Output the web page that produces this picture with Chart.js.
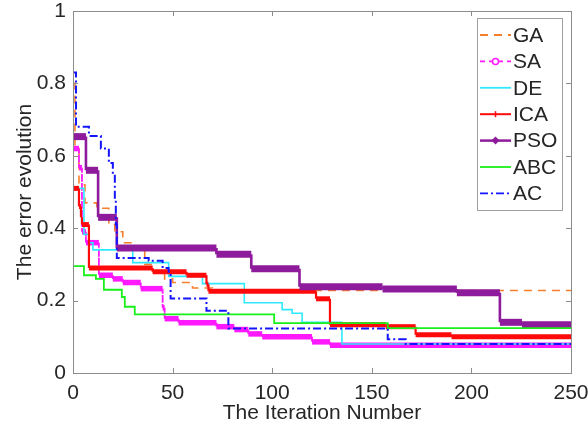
<!DOCTYPE html>
<html lang="en">
<head>
  <meta charset="UTF-8">
  <title>The error evolution</title>
  <script src="https://cdn.jsdelivr.net/npm/chart.js"></script>
  <style>
    body { margin: 0; background: #fff; }
    .chart-container { width: 588px; height: 440px; }
  </style>
</head>
<body>
  <div class="chart-container"><canvas id="errChart"></canvas></div>

  <script>
    // step points: iteration where a new best error starts, and that error
    const iterGA  = [0, 1, 3, 6, 12, 18, 21, 25, 30, 36, 40, 46, 50, 60, 70, 250];
    const errGA   = [0.80, 0.62, 0.52, 0.47, 0.455, 0.41, 0.39, 0.36, 0.34, 0.30, 0.28, 0.26, 0.25, 0.235, 0.228, 0.228];

    const iterSA  = [0, 3, 4.5, 6.5, 13, 20, 25, 34, 45, 46, 53, 72, 81, 88, 95, 120, 129, 250];
    const errSA   = [0.62, 0.567, 0.39, 0.36, 0.27, 0.26, 0.25, 0.233, 0.18, 0.15, 0.139, 0.128, 0.12, 0.108, 0.10, 0.086, 0.077, 0.077];

    const iterDE  = [0.5, 5.5, 8, 10, 30, 48, 65, 86, 105, 110, 115, 135, 250];
    const errDE   = [0.51, 0.383, 0.36, 0.34, 0.305, 0.267, 0.247, 0.194, 0.175, 0.165, 0.14, 0.08, 0.08];

    const iterICA = [0, 3, 4, 4.5, 8, 40, 57, 67, 68, 122, 129, 157, 172, 190, 250];
    const errICA  = [0.51, 0.46, 0.43, 0.41, 0.29, 0.28, 0.27, 0.245, 0.226, 0.205, 0.133, 0.128, 0.106, 0.10, 0.10];

    const iterPSO = [0, 6.5, 12.6, 22, 72, 89.5, 113.7, 155.4, 192.7, 214.3, 225.4, 250];
    const errPSO  = [0.653, 0.56, 0.43, 0.345, 0.328, 0.288, 0.238, 0.232, 0.222, 0.14, 0.133, 0.133];

    const iterABC = [0, 5.5, 11.5, 15.5, 24.5, 26, 31, 101, 158, 250];
    const errABC  = [0.295, 0.27, 0.26, 0.23, 0.21, 0.183, 0.162, 0.138, 0.124, 0.124];

    const iterAC  = [0, 1.5, 8, 14, 18, 20, 21, 21.5, 22, 38, 45, 48, 49, 67, 78, 158, 167, 250];
    const errAC   = [0.83, 0.68, 0.655, 0.62, 0.58, 0.55, 0.48, 0.41, 0.318, 0.31, 0.29, 0.28, 0.206, 0.172, 0.123, 0.093, 0.08, 0.08];

    const xTicks = [0, 50, 100, 150, 200, 250];
    const yTicks = [0, 0.2, 0.4, 0.6, 0.8, 1];

    const FONT = "'Liberation Sans', Arial, Helvetica, sans-serif";
    const TXT = '#262626';
    const AXIS = '#8c8c8c';

    // staircase points: corner (next x, old y) then (next x, new y)
    function stairs(xs, ys) {
      const out = [{ x: xs[0], y: ys[0] }];
      for (let i = 1; i < xs.length; i++) {
        out.push({ x: xs[i], y: ys[i - 1] });
        out.push({ x: xs[i], y: ys[i] });
      }
      return out;
    }

    // width = flat runs (marker band), thin = the drops
    const series = [
      { label: 'GA',  x: iterGA,  y: errGA,  color: '#f77f2b', width: 1.6, thin: 1.6, dash: [8, 6],       vdash: [8, 6],       marker: null,      order: 7 },
      { label: 'SA',  x: iterSA,  y: errSA,  color: '#ff19ff', width: 5.5, thin: 1.8, dash: [],           vdash: [5, 4],       marker: 'circle',  order: 6 },
      { label: 'DE',  x: iterDE,  y: errDE,  color: '#2ee9ff', width: 1.6, thin: 1.6, dash: [],           vdash: [],           marker: null,      order: 5 },
      { label: 'ICA', x: iterICA, y: errICA, color: '#ff0a0a', width: 5,   thin: 2.2, dash: [],           vdash: [],           marker: 'plus',    order: 4 },
      { label: 'PSO', x: iterPSO, y: errPSO, color: '#8e1a9c', width: 7,   thin: 2.6, dash: [],           vdash: [],           marker: 'diamond', order: 3 },
      { label: 'ABC', x: iterABC, y: errABC, color: '#19f019', width: 1.8, thin: 1.8, dash: [],           vdash: [],           marker: null,      order: 2 },
      { label: 'AC',  x: iterAC,  y: errAC,  color: '#1414ff', width: 2,   thin: 2,   dash: [8, 3, 2, 3], vdash: [8, 3, 2, 3], marker: null,      order: 1 }
    ];

    // box, inward ticks and legend, MATLAB style
    const framePlugin = {
      id: 'frame',
      afterDraw(chart) {
        const { ctx, chartArea: a, scales } = chart;
        ctx.save();
        ctx.strokeStyle = AXIS;
        ctx.lineWidth = 1;
        ctx.setLineDash([]);
        ctx.strokeRect(a.left + 0.5, a.top + 0.5, a.right - a.left, a.bottom - a.top);
        xTicks.forEach(v => {
          const px = Math.round(scales.x.getPixelForValue(v)) + 0.5;
          ctx.beginPath();
          ctx.moveTo(px, a.bottom); ctx.lineTo(px, a.bottom - 5);
          ctx.moveTo(px, a.top); ctx.lineTo(px, a.top + 5);
          ctx.stroke();
        });
        yTicks.forEach(v => {
          const py = Math.round(scales.y.getPixelForValue(v)) + 0.5;
          ctx.beginPath();
          ctx.moveTo(a.left, py); ctx.lineTo(a.left + 5, py);
          ctx.moveTo(a.right, py); ctx.lineTo(a.right - 5, py);
          ctx.stroke();
        });

        // legend
        const bx = 477, by = 18, bw = 85, bh = 192;
        ctx.fillStyle = '#fff';
        ctx.fillRect(bx, by, bw, bh);
        ctx.strokeStyle = '#a0a0a0';
        ctx.strokeRect(bx + 0.5, by + 0.5, bw, bh);
        ctx.font = '21px ' + FONT;
        ctx.textBaseline = 'middle';
        series.forEach((s, i) => {
          const ly = 35 + i * 26.4;
          ctx.strokeStyle = s.color;
          ctx.lineWidth = s.label === 'PSO' ? 2.5 : (s.label === 'ICA' ? 2 : 1.8);
          ctx.setLineDash(s.label === 'SA' ? [5, 4] : s.dash);
          ctx.beginPath();
          ctx.moveTo(480, ly); ctx.lineTo(511, ly);
          ctx.stroke();
          ctx.setLineDash([]);
          const mx = 495.5;
          if (s.marker === 'circle') {
            ctx.fillStyle = '#fff';
            ctx.lineWidth = 1.5;
            ctx.beginPath(); ctx.arc(mx, ly, 3, 0, Math.PI * 2); ctx.fill(); ctx.stroke();
          } else if (s.marker === 'plus') {
            ctx.lineWidth = 1.5;
            ctx.beginPath();
            ctx.moveTo(mx, ly - 3); ctx.lineTo(mx, ly + 3);
            ctx.stroke();
          } else if (s.marker === 'diamond') {
            ctx.fillStyle = s.color;
            ctx.beginPath();
            ctx.moveTo(mx, ly - 4); ctx.lineTo(mx + 4, ly); ctx.lineTo(mx, ly + 4); ctx.lineTo(mx - 4, ly);
            ctx.closePath(); ctx.fill();
          }
          ctx.fillStyle = TXT;
          ctx.fillText(s.label, 513, ly + 1);
        });
        ctx.restore();
      }
    };

    const isDrop = c => c.p0.parsed.x === c.p1.parsed.x;

    const errChart = new Chart(document.getElementById('errChart'), {
      type: 'line',
      data: {
        datasets: series.map(s => ({
          label: s.label,
          data: stairs(s.x, s.y),
          borderColor: s.color,
          backgroundColor: s.color,
          borderWidth: s.width,
          borderDash: s.dash,
          segment: {
            borderWidth: c => isDrop(c) ? s.thin : s.width,
            borderDash: c => isDrop(c) ? s.vdash : s.dash
          },
          tension: 0,
          pointRadius: 0,
          fill: false,
          order: s.order
        }))
      },
      options: {
        responsive: true,
        maintainAspectRatio: false,
        animation: false,
        layout: { padding: 0 },
        plugins: {
          legend: { display: false },
          tooltip: { enabled: false }
        },
        scales: {
          x: {
            type: 'linear',
            min: 0,
            max: 250,
            afterFit: s => { s.height = 67; s.paddingLeft = 0; s.paddingRight = 17; },
            afterBuildTicks: s => { s.ticks = xTicks.map(v => ({ value: v })); },
            grid: { display: false, drawTicks: false },
            border: { display: false },
            ticks: { color: TXT, font: { family: FONT, size: 21 }, padding: 8, maxRotation: 0,
                     callback: v => String(v) },
            title: { display: true, text: 'The Iteration Number', color: TXT,
                     font: { family: FONT, size: 21 }, padding: { top: 0, bottom: 14 } }
          },
          y: {
            type: 'linear',
            min: 0,
            max: 1,
            afterFit: s => { s.width = 73; s.paddingTop = 11; s.paddingBottom = 0; },
            afterBuildTicks: s => { s.ticks = yTicks.map(v => ({ value: v })); },
            grid: { display: false, drawTicks: false },
            border: { display: false },
            ticks: { color: TXT, font: { family: FONT, size: 21 }, padding: 7,
                     callback: v => String(+v.toFixed(1)) },
            title: { display: true, text: 'The error evolution', color: TXT,
                     font: { family: FONT, size: 21 }, padding: { top: 13, bottom: 0 } }
          }
        }
      },
      plugins: [framePlugin]
    });
  </script>
</body>
</html>
